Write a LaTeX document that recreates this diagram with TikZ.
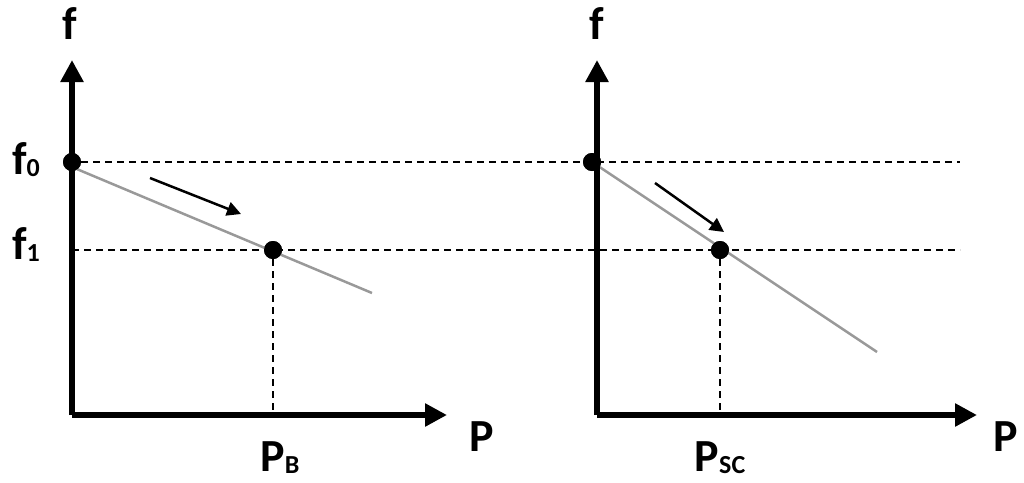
\documentclass[tikz,border=0pt]{standalone}
\usepackage{fontspec}
\setmainfont{Carlito}
\usetikzlibrary{arrows.meta}
\newcommand{\lowsub}[1]{\raisebox{-2pt}{\fontsize{26}{28}\selectfont #1}}
\begin{document}
\begin{tikzpicture}[x=1pt,y=-1pt,
 axis/.style={line width=6pt,-{Triangle[length=22pt,width=22pt]}},
 dline/.style={line width=1.5pt,dash pattern=on 7pt off 5pt},
 curve/.style={gray!80,line width=2.5pt},
 dot/.style={circle,fill=black,inner sep=0pt,minimum size=18pt},
 lab/.style={font=\fontsize{46}{48}\selectfont\bfseries,inner sep=0pt},
 mv/.style={line width=2.5pt,-{Triangle[length=14pt,width=14pt]}}]
\useasboundingbox (0,0) rectangle (1024,482);
\coordinate (o1) at (72,415); \coordinate (t1) at (72,60); \coordinate (r1) at (447,415);
\coordinate (o2) at (597,415); \coordinate (t2) at (597,60); \coordinate (r2) at (977,415);
\coordinate (d0e) at (960,162); \coordinate (d1e) at (960,250);
\coordinate (b0) at (273,415); \coordinate (s0) at (720,415);
\node[dot] (a0) at (72,162) {}; \node[dot] (a1) at (273,250) {};
\node[dot] (c0) at (592,162) {}; \node[dot] (c1) at (720,250) {};
\coordinate (l1s) at (72,167); \coordinate (l1e) at (372,293);
\coordinate (l2e) at (877,352);
\draw[dline] (a0) -- (d0e); \draw[dline] (72,250) -- (d1e);
\draw[dline] (a1) -- (b0); \draw[dline] (c1) -- (s0);
\draw[curve] (l1s) -- (l1e); \draw[curve] (c0) -- (l2e);
\draw[axis] (o1) -- (t1); \draw[axis] (o1) -- (r1);
\draw[axis] (o2) -- (t2); \draw[axis] (o2) -- (r2);
\node[dot] at (a0) {}; \node[dot] at (a1) {}; \node[dot] at (c0) {}; \node[dot] at (c1) {};
\coordinate (m1s) at (150,178); \coordinate (m1e) at (241,214);
\coordinate (m2s) at (655,183); \coordinate (m2e) at (724,232);
\draw[mv] (m1s) -- (m1e); \draw[mv] (m2s) -- (m2e);
\node[lab] (fa) at (70,24) {f}; \node[lab] (fb) at (597,24) {f};
\node[lab] (f0) at (26,160) {f\lowsub{0}};
\node[lab] (f1) at (26,245) {f\lowsub{1}};
\node[lab] (pa) at (482,437) {P}; \node[lab] (pb) at (1006,437) {P};
\node[lab] (pB) at (280,458) {P\lowsub{B}};
\node[lab] (pS) at (720,458) {P\lowsub{SC}};
\end{tikzpicture}
\end{document}
